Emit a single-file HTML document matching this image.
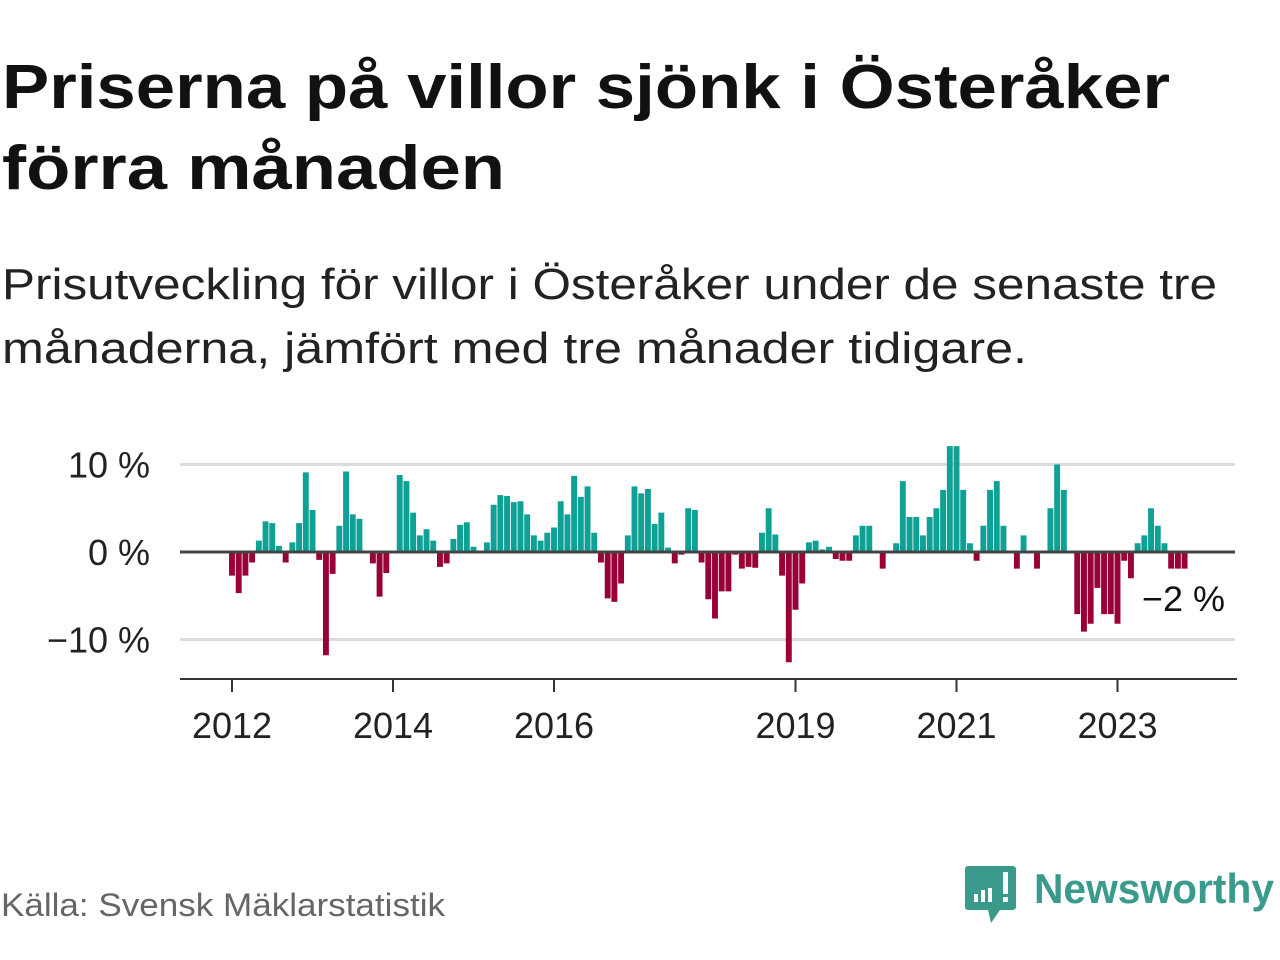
<!DOCTYPE html>
<html><head><meta charset="utf-8">
<style>
html,body{margin:0;padding:0;background:#fff;width:1280px;height:960px;overflow:hidden}
svg text{font-family:"Liberation Sans",sans-serif}
</style></head>
<body>
<svg id="chart" width="1280" height="960" viewBox="0 0 1280 960" xmlns="http://www.w3.org/2000/svg">
<text x="2" y="108" font-size="62" font-weight="bold" fill="#111" textLength="1168" lengthAdjust="spacingAndGlyphs">Priserna på villor sjönk i Österåker</text>
<text x="2" y="189" font-size="62" font-weight="bold" fill="#111" textLength="503" lengthAdjust="spacingAndGlyphs">förra månaden</text>
<text x="2" y="299" font-size="44" fill="#222" textLength="1215" lengthAdjust="spacingAndGlyphs">Prisutveckling för villor i Österåker under de senaste tre</text>
<text x="2" y="363" font-size="44" fill="#222" textLength="1025" lengthAdjust="spacingAndGlyphs">månaderna, jämfört med tre månader tidigare.</text>
<g id="grid"></g>
<g id="bars"></g>
<g id="axis"></g>
<text x="1142" y="611" font-size="35" fill="#111" textLength="83" lengthAdjust="spacingAndGlyphs">−2 %</text>
<text x="1" y="916" font-size="32" fill="#666" textLength="444" lengthAdjust="spacingAndGlyphs">Källa: Svensk Mäklarstatistik</text>
<g>
<path d="M968 866 h45 a3 3 0 0 1 3 3 v38 a3 3 0 0 1 -3 3 h-13 l-9 13 l-3 -13 h-20 a3 3 0 0 1 -3 -3 v-38 a3 3 0 0 1 3 -3z" fill="#3a9b8d"/>
<rect x="974" y="894" width="4" height="8" fill="#fff"/>
<rect x="981" y="890" width="4" height="12" fill="#fff"/>
<rect x="988" y="888" width="4" height="14" fill="#fff"/>
<rect x="1003" y="872" width="5" height="22" fill="#fff"/>
<rect x="1003" y="897" width="5" height="5" fill="#fff"/>
<text x="1034" y="903" font-size="42" font-weight="bold" fill="#3a9b8d" textLength="240" lengthAdjust="spacingAndGlyphs">Newsworthy</text>
</g>
</svg>
<script>
const values = [-2.7,-4.7,-2.7,-1.2,1.3,3.5,3.3,0.7,-1.2,1.1,3.3,9.1,
4.8,-0.9,-11.8,-2.5,3.0,9.2,4.3,3.8,0,-1.3,-5.1,-2.4,
0,8.8,8.1,4.5,1.9,2.6,1.3,-1.7,-1.3,1.5,3.1,3.4,
0.6,0,1.1,5.4,6.5,6.4,5.7,5.8,4.3,1.9,1.3,2.2,
2.8,5.8,4.3,8.7,6.3,7.5,2.2,-1.2,-5.3,-5.7,-3.6,1.9,
7.5,6.7,7.2,3.2,4.5,0.5,-1.3,-0.3,5.0,4.8,-1.2,-5.4,
-7.6,-4.5,-4.5,-0.3,-1.9,-1.7,-1.8,2.2,5.0,2.0,-2.7,-12.6,
-6.6,-3.6,1.1,1.3,0.3,0.6,-0.8,-1.0,-1.0,1.9,3.0,3.0,
0,-1.9,0,1.0,8.1,4.0,4.0,1.9,4.0,5.0,7.1,12.1,
12.1,7.1,1.0,-1.0,3.0,7.1,8.1,3.0,0,-1.9,1.9,0,
-1.9,0,5.0,10.0,7.1,0,-7.1,-9.1,-8.2,-4.1,-7.1,-7.1,
-8.2,-1.0,-3.0,1.0,1.9,5.0,3.0,1.0,-1.9,-1.9,-1.9];
const yTicks = [10,0,-10];
const yTickLabels = ["10 %","0 %","−10 %"];
const xTickYears = [2012,2014,2016,2019,2021,2023];
const startYear = 2012;

const NS="http://www.w3.org/2000/svg";
function xScale(monthIndex){return 232 + monthIndex*(80.5/12);}
function yScale(v){return 552 - v*8.75;}
function mk(tag,attrs,parent){const e=document.createElementNS(NS,tag);for(const k in attrs)e.setAttribute(k,attrs[k]);parent.appendChild(e);return e;}

const grid=document.getElementById('grid');
yTicks.forEach((t,i)=>{
  if(t!==0){
    const l=mk('line',{x1:180,x2:1235,y1:yScale(t),y2:yScale(t),stroke:'#ddd','stroke-width':3},grid);
    
    
  }
  const tx=mk('text',{x:150,y:yScale(t)+13,'text-anchor':'end','font-size':36,fill:'#222','font-family':'DejaVu Sans, sans-serif'},grid);
  tx.textContent=yTickLabels[i];
  
  
});

const bars=document.getElementById('bars');
const bw=80.5/12;
values.forEach((v,i)=>{
  if(v===0)return;
  const y0=yScale(0), y1=yScale(v);
  const r=mk('rect',{x:xScale(i)-bw/2+0.4,y:Math.min(y0,y1),width:bw-0.8,height:Math.abs(y1-y0),fill:v>0?'#0fa195':'#990038'},bars);
  
  
});
const zl=mk('line',{x1:180,x2:1235,y1:yScale(0),y2:yScale(0),stroke:'#444','stroke-width':3},bars);



const axis=document.getElementById('axis');
const al=mk('line',{x1:180,x2:1237,y1:679,y2:679,stroke:'#333','stroke-width':2},axis);


xTickYears.forEach(yr=>{
  const x=xScale((yr-startYear)*12);
  const t=mk('line',{x1:x,x2:x,y1:679,y2:692,stroke:'#333','stroke-width':2},axis);
  
  
  const tx=mk('text',{x:x,y:738,'text-anchor':'middle','font-size':36,fill:'#222','font-family':'DejaVu Sans, sans-serif'},axis);
  tx.textContent=yr;
  
  
});
</script>
</body></html>
